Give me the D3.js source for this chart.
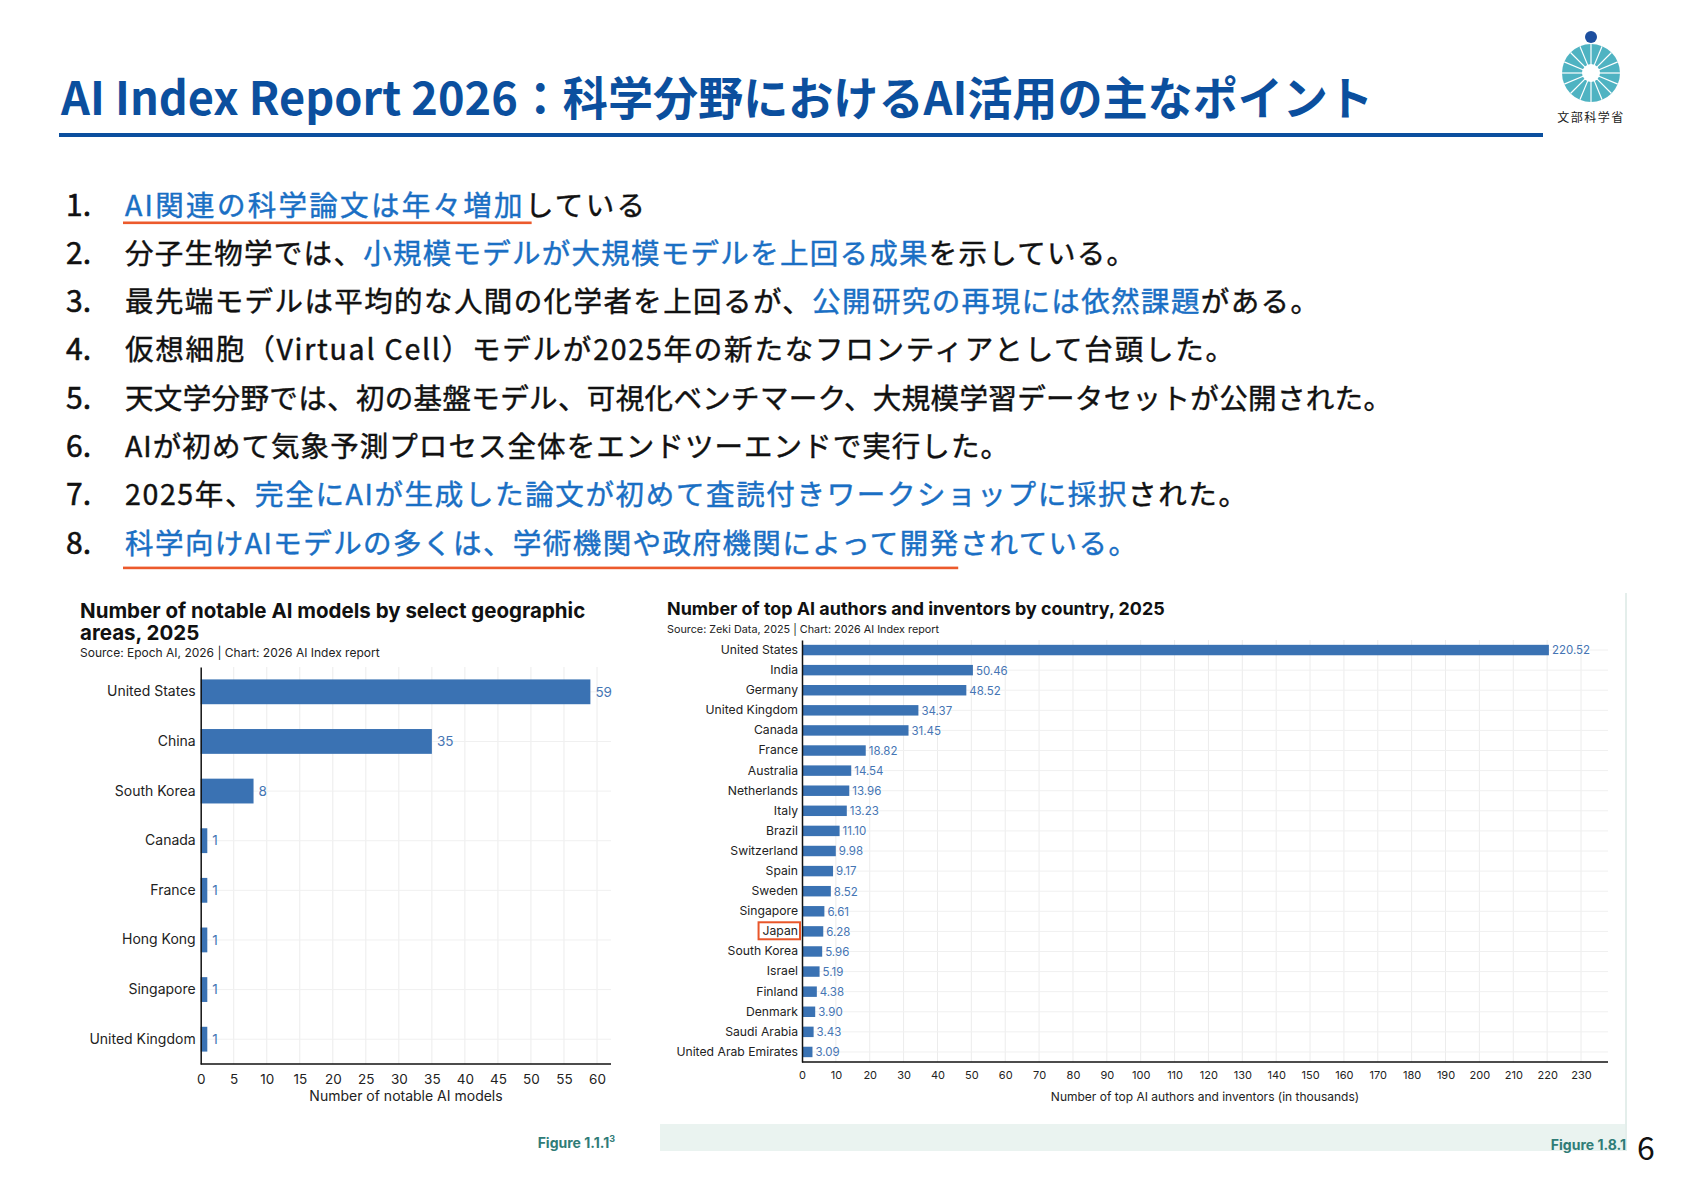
<!DOCTYPE html>
<html>
<head>
<meta charset="utf-8">
<script src="https://cdn.jsdelivr.net/npm/d3@7"></script>
<style>
  body { margin: 0; background: #fff; }
  svg { display: block; }
</style>
</head>
<body>
<script>
// ---- data ----
const modelCountries = ['United States', 'China', 'South Korea', 'Canada', 'France', 'Hong Kong', 'Singapore', 'United Kingdom'];
const modelCounts = [59, 35, 8, 1, 1, 1, 1, 1];
const modelTicks = [0, 5, 10, 15, 20, 25, 30, 35, 40, 45, 50, 55, 60];

const authorCountries = ['United States', 'India', 'Germany', 'United Kingdom', 'Canada', 'France', 'Australia',
  'Netherlands', 'Italy', 'Brazil', 'Switzerland', 'Spain', 'Sweden', 'Singapore', 'Japan', 'South Korea',
  'Israel', 'Finland', 'Denmark', 'Saudi Arabia', 'United Arab Emirates'];
const authorCounts = [220.52, 50.46, 48.52, 34.37, 31.45, 18.82, 14.54, 13.96, 13.23, 11.10, 9.98, 9.17, 8.52,
  6.61, 6.28, 5.96, 5.19, 4.38, 3.90, 3.43, 3.09];
const authorTicks = [0, 10, 20, 30, 40, 50, 60, 70, 80, 90, 100, 110, 120, 130, 140, 150, 160, 170, 180, 190, 200, 210, 220, 230];

// each point: list of [text, highlighted]
const points = [
  [['AI関連の科学論文は年々増加', true], ['している', false]],
  [['分子生物学では、', false], ['小規模モデルが大規模モデルを上回る成果', true], ['を示している。', false]],
  [['最先端モデルは平均的な人間の化学者を上回るが、', false], ['公開研究の再現には依然課題', true], ['がある。', false]],
  [['仮想細胞（Virtual Cell）モデルが2025年の新たなフロンティアとして台頭した。', false]],
  [['天文学分野では、初の基盤モデル、可視化ベンチマーク、大規模学習データセットが公開された。', false]],
  [['AIが初めて気象予測プロセス全体をエンドツーエンドで実行した。', false]],
  [['2025年、', false], ['完全にAIが生成した論文が初めて査読付きワークショップに採択', true], ['された。', false]],
  [['科学向けAIモデルの多くは、学術機関や政府機関によって開発されている。', true]]
];
// underlined prefix length (chars) per point
const underlined = { 0: 14, 7: 29 };

// layout: rendered width of each point line in the slide
const lineWidths = [520, 1010, 1194, 1109, 1267, 884, 1122, 1012];

const width = 1684;
const height = 1190;
const barColor = '#3a72b3';
const labelBlue = '#4575b4';
const jpFont = '"Noto Sans CJK JP", "Noto Sans", sans-serif';
const chartFont = 'Inter, Roboto, "Liberation Sans", sans-serif';

const svg = d3.select('body')
  .append('svg')
  .attr('width', width)
  .attr('height', height);

svg.append('rect').attr('width', width).attr('height', height).attr('fill', '#fff');

// ---- header ----
svg.append('text')
  .attr('x', 61)
  .attr('y', 115)
  .attr('font-family', jpFont)
  .attr('font-size', 46)
  .attr('font-weight', 700)
  .attr('fill', '#0b4f9e')
  .attr('textLength', 1312)
  .attr('lengthAdjust', 'spacingAndGlyphs')
  .text('AI Index Report 2026：科学分野におけるAI活用の主なポイント');

svg.append('rect')
  .attr('x', 59).attr('y', 133)
  .attr('width', 1484).attr('height', 4)
  .attr('fill', '#0b4f9e');

// logo
const logo = svg.append('g').attr('transform', 'translate(1591, 73)');
logo.append('circle').attr('cx', 0).attr('cy', -36).attr('r', 6).attr('fill', '#1d4f9f');
logo.append('circle').attr('r', 29).attr('fill', '#4fb3c2');
logo.selectAll('line.spoke')
  .data(d3.range(16))
  .enter()
  .append('line')
  .attr('class', 'spoke')
  .attr('x1', d => 8 * Math.cos(d * Math.PI / 8))
  .attr('y1', d => 8 * Math.sin(d * Math.PI / 8))
  .attr('x2', d => 29 * Math.cos(d * Math.PI / 8))
  .attr('y2', d => 29 * Math.sin(d * Math.PI / 8))
  .attr('stroke', '#fff')
  .attr('stroke-width', 1.2);
logo.append('circle').attr('r', 9).attr('fill', '#fff');
logo.append('text')
  .attr('x', 0).attr('y', 49)
  .attr('text-anchor', 'middle')
  .attr('font-family', jpFont)
  .attr('font-size', 12)
  .attr('letter-spacing', 1.5)
  .attr('fill', '#222')
  .text('文部科学省');

// ---- numbered points ----
const lineStep = 48.3;
const firstBaseline = 215.5;

points.forEach((segs, i) => {
  const y = firstBaseline + i * lineStep;
  svg.append('text')
    .attr('x', 66)
    .attr('y', y)
    .attr('font-family', jpFont)
    .attr('font-size', 30)
    .attr('fill', '#111')
    .attr('stroke', '#111')
    .attr('stroke-width', 0.6)
    .text(`${i + 1}.`);

  const line = svg.append('text')
    .attr('x', 125)
    .attr('y', y)
    .attr('font-family', jpFont)
    .attr('font-size', 28.5)
    .attr('stroke-width', 0.45)
    .attr('textLength', lineWidths[i])
    .attr('lengthAdjust', 'spacing');

  segs.forEach(([t, hi]) => {
    const c = hi ? '#1a6fc4' : '#111';
    line.append('tspan')
      .attr('fill', c)
      .attr('stroke', c)
      .text(t);
  });

  if (underlined[i] !== undefined) {
    const ext = line.node().getExtentOfChar(underlined[i] - 1);
    svg.append('rect')
      .attr('x', 123)
      .attr('y', y + (i === 0 ? 6 : 13))
      .attr('width', ext.x + ext.width - 123 + (i === 0 ? 9 : 0))
      .attr('height', 2.6)
      .attr('fill', '#ec5a2c');
  }
});

// ---- left chart: notable AI models ----
const leftX = d3.scaleLinear().domain([0, 60]).range([200.7, 597]);
const leftY = d3.scaleBand().domain(modelCountries).range([667, 1064]).paddingInner(0.5).paddingOuter(0.25);
const leftRight = 611;

const left = svg.append('g').attr('font-family', chartFont);

left.append('text')
  .attr('x', 80).attr('y', 618)
  .attr('font-size', 20.5).attr('font-weight', 700).attr('fill', '#111')
  .text('Number of notable AI models by select geographic');
left.append('text')
  .attr('x', 80).attr('y', 640)
  .attr('font-size', 20.5).attr('font-weight', 700).attr('fill', '#111')
  .text('areas, 2025');
left.append('text')
  .attr('x', 80).attr('y', 657)
  .attr('font-size', 12).attr('fill', '#222')
  .text('Source: Epoch AI, 2026 | Chart: 2026 AI Index report');

// grid
left.append('g')
  .selectAll('line')
  .data(modelTicks.slice(1))
  .enter()
  .append('line')
  .attr('x1', d => leftX(d)).attr('x2', d => leftX(d))
  .attr('y1', 667).attr('y2', 1064)
  .attr('stroke', '#ececec');
left.append('g')
  .selectAll('line')
  .data(modelCountries)
  .enter()
  .append('line')
  .attr('x1', leftX(0)).attr('x2', leftRight)
  .attr('y1', d => leftY(d) + leftY.bandwidth() / 2)
  .attr('y2', d => leftY(d) + leftY.bandwidth() / 2)
  .attr('stroke', '#f0f0f0');

left.selectAll('rect.bar')
  .data(modelCountries)
  .enter()
  .append('rect')
  .attr('class', 'bar')
  .attr('x', leftX(0))
  .attr('y', d => leftY(d))
  .attr('width', (d, i) => leftX(modelCounts[i]) - leftX(0))
  .attr('height', leftY.bandwidth())
  .attr('fill', barColor);

left.selectAll('text.value')
  .data(modelCountries)
  .enter()
  .append('text')
  .attr('class', 'value')
  .attr('x', (d, i) => leftX(modelCounts[i]) + 5)
  .attr('y', d => leftY(d) + leftY.bandwidth() / 2)
  .attr('dy', '0.35em')
  .attr('font-size', 13.5)
  .attr('fill', labelBlue)
  .text((d, i) => modelCounts[i]);

const leftYAxis = left.append('g')
  .attr('transform', `translate(${leftX(0)},0)`)
  .call(d3.axisLeft(leftY).tickSize(0).tickPadding(5));
leftYAxis.select('.domain').attr('stroke', '#111').attr('stroke-width', 1.5);
leftYAxis.selectAll('text').attr('font-size', 14).attr('fill', '#222').attr('font-family', chartFont);

const leftXAxis = left.append('g')
  .attr('transform', 'translate(0,1064)')
  .call(d3.axisBottom(leftX).tickValues(modelTicks).tickSize(0).tickPadding(10));
leftXAxis.select('.domain').remove();
leftXAxis.selectAll('text').attr('font-size', 13.5).attr('fill', '#222').attr('font-family', chartFont);
left.append('line')
  .attr('x1', leftX(0)).attr('x2', leftRight)
  .attr('y1', 1064).attr('y2', 1064)
  .attr('stroke', '#111').attr('stroke-width', 1.5);

left.append('text')
  .attr('x', 406).attr('y', 1101)
  .attr('text-anchor', 'middle')
  .attr('font-size', 14).attr('fill', '#222')
  .text('Number of notable AI models');

const fig1 = left.append('text')
  .attr('x', 615).attr('y', 1148)
  .attr('text-anchor', 'end')
  .attr('font-size', 14).attr('font-weight', 700).attr('fill', '#2f7c77');
fig1.append('tspan').text('Figure 1.1.1');
fig1.append('tspan').attr('font-size', 9).attr('dy', -6).text('3');

// ---- right chart: top AI authors and inventors ----
const rightX = d3.scaleLinear().domain([0, 230]).range([802, 1581]);
const rightY = d3.scaleBand().domain(authorCountries).range([640, 1062]).paddingInner(0.48).paddingOuter(0.24);
const rightRight = 1608;

const right = svg.append('g').attr('font-family', chartFont);

// panel decorations
right.append('rect')
  .attr('x', 660).attr('y', 1124)
  .attr('width', 966).attr('height', 27)
  .attr('fill', '#eaf3f0');
right.append('line')
  .attr('x1', 1626).attr('x2', 1626)
  .attr('y1', 593).attr('y2', 1151)
  .attr('stroke', '#e4eeeb').attr('stroke-width', 2);

right.append('text')
  .attr('x', 667).attr('y', 615)
  .attr('font-size', 17.9).attr('font-weight', 700).attr('fill', '#111')
  .text('Number of top AI authors and inventors by country, 2025');
right.append('text')
  .attr('x', 667).attr('y', 633)
  .attr('font-size', 10.8).attr('fill', '#222')
  .text('Source: Zeki Data, 2025 | Chart: 2026 AI Index report');

right.append('g')
  .selectAll('line')
  .data(authorTicks.slice(1))
  .enter()
  .append('line')
  .attr('x1', d => rightX(d)).attr('x2', d => rightX(d))
  .attr('y1', 640).attr('y2', 1062)
  .attr('stroke', '#ececec');
right.append('g')
  .selectAll('line')
  .data(authorCountries)
  .enter()
  .append('line')
  .attr('x1', rightX(0)).attr('x2', rightRight)
  .attr('y1', d => rightY(d) + rightY.bandwidth() / 2)
  .attr('y2', d => rightY(d) + rightY.bandwidth() / 2)
  .attr('stroke', '#f0f0f0');

right.selectAll('rect.bar')
  .data(authorCountries)
  .enter()
  .append('rect')
  .attr('class', 'bar')
  .attr('x', rightX(0))
  .attr('y', d => rightY(d))
  .attr('width', (d, i) => rightX(authorCounts[i]) - rightX(0))
  .attr('height', rightY.bandwidth())
  .attr('fill', barColor);

right.selectAll('text.value')
  .data(authorCountries)
  .enter()
  .append('text')
  .attr('class', 'value')
  .attr('x', (d, i) => rightX(authorCounts[i]) + 3)
  .attr('y', d => rightY(d) + rightY.bandwidth() / 2)
  .attr('dy', '0.38em')
  .attr('font-size', 11.5)
  .attr('fill', labelBlue)
  .text((d, i) => authorCounts[i].toFixed(2));

const rightYAxis = right.append('g')
  .attr('transform', `translate(${rightX(0)},0)`)
  .call(d3.axisLeft(rightY).tickSize(0).tickPadding(4));
rightYAxis.select('.domain').attr('stroke', '#111').attr('stroke-width', 1.5);
rightYAxis.selectAll('text').attr('font-size', 12.2).attr('fill', '#222').attr('font-family', chartFont);

const rightXAxis = right.append('g')
  .attr('transform', 'translate(0,1062)')
  .call(d3.axisBottom(rightX).tickValues(authorTicks).tickSize(0).tickPadding(9));
rightXAxis.select('.domain').remove();
rightXAxis.selectAll('text').attr('font-size', 11).attr('fill', '#222').attr('font-family', chartFont);
right.append('line')
  .attr('x1', rightX(0)).attr('x2', rightRight)
  .attr('y1', 1062).attr('y2', 1062)
  .attr('stroke', '#111').attr('stroke-width', 1.5);

right.append('text')
  .attr('x', 1205).attr('y', 1101)
  .attr('text-anchor', 'middle')
  .attr('font-size', 12).attr('fill', '#222')
  .text('Number of top AI authors and inventors (in thousands)');

// highlight Japan
rightYAxis.selectAll('.tick')
  .filter(d => d === 'Japan')
  .each(function () {
    const box = this.querySelector('text').getBBox();
    d3.select(this).append('rect')
      .attr('x', box.x - 4)
      .attr('y', box.y - 1)
      .attr('width', box.width + 6)
      .attr('height', box.height + 2)
      .attr('fill', 'none')
      .attr('stroke', '#e8562a')
      .attr('stroke-width', 2);
  });

right.append('text')
  .attr('x', 1626).attr('y', 1150)
  .attr('text-anchor', 'end')
  .attr('font-size', 14).attr('font-weight', 700).attr('fill', '#2f7c77')
  .text('Figure 1.8.1');

svg.append('text')
  .attr('x', 1637).attr('y', 1160)
  .attr('font-family', jpFont)
  .attr('font-size', 32)
  .attr('fill', '#111')
  .text('6');
</script>
</body>
</html>
